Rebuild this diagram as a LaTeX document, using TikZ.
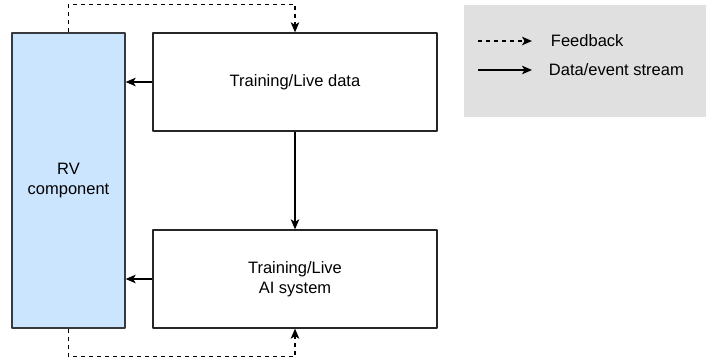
\documentclass[tikz,border=0pt]{standalone}
\usepackage{fontspec}
\setmainfont{Liberation Sans}
\usetikzlibrary{arrows.meta,positioning}
\definecolor{rvblue}{HTML}{CCE5FF}
\definecolor{rvedge}{HTML}{36393D}
\definecolor{legendgray}{HTML}{E0E0E0}
\begin{document}
\begin{tikzpicture}[x=1pt,y=-1pt,>={Stealth[length=10pt,width=8.5pt,inset=2.5pt]},line join=round,font=\fontsize{16.5}{20}\selectfont,
    box/.style={draw=black!85,line width=1.3pt,fill=white,inner sep=0pt,align=center},
    flow/.style={->,line width=1.3pt},
    feedback/.style={->,line width=1.3pt,dash pattern=on 4pt off 4pt}]
            \useasboundingbox (0,0) rectangle (706,361);
            \fill[legendgray] (464,5) rectangle (706,117);
            \node[box,fill=rvblue,draw=rvedge,minimum width=113pt,minimum height=295pt] (rv) at (68.5,180.5) {RV\\component};
            \node[box,minimum width=284pt,minimum height=98pt] (data) at (295,82) {Training/Live data};
            \node[box,minimum width=284pt,minimum height=98pt] (ai) at (295,279) {Training/Live\\AI system};
            \draw[flow] (data.west) -- (rv.east |- data.west);
            \draw[flow] (ai.west) -- (rv.east |- ai.west);
            \draw[flow] (data.south) -- (ai.north);
            %feedback loops
            \draw[feedback] (rv.north) -- ++(0,-28) -| (data.north);
            \draw[feedback] (rv.south) -- ++(0,28) -| (ai.south);
            %legend
            \coordinate (fbstart) at (478,41);
            \coordinate (dsstart) at (478,70);
            \draw[feedback] (fbstart) -- ++(54,0) node[right=15pt] (fbtext) {Feedback};
            \draw[flow] (dsstart) -- ++(54,0) node[right=13pt] (dstext) {Data/event stream};
        \end{tikzpicture}
\end{document}
